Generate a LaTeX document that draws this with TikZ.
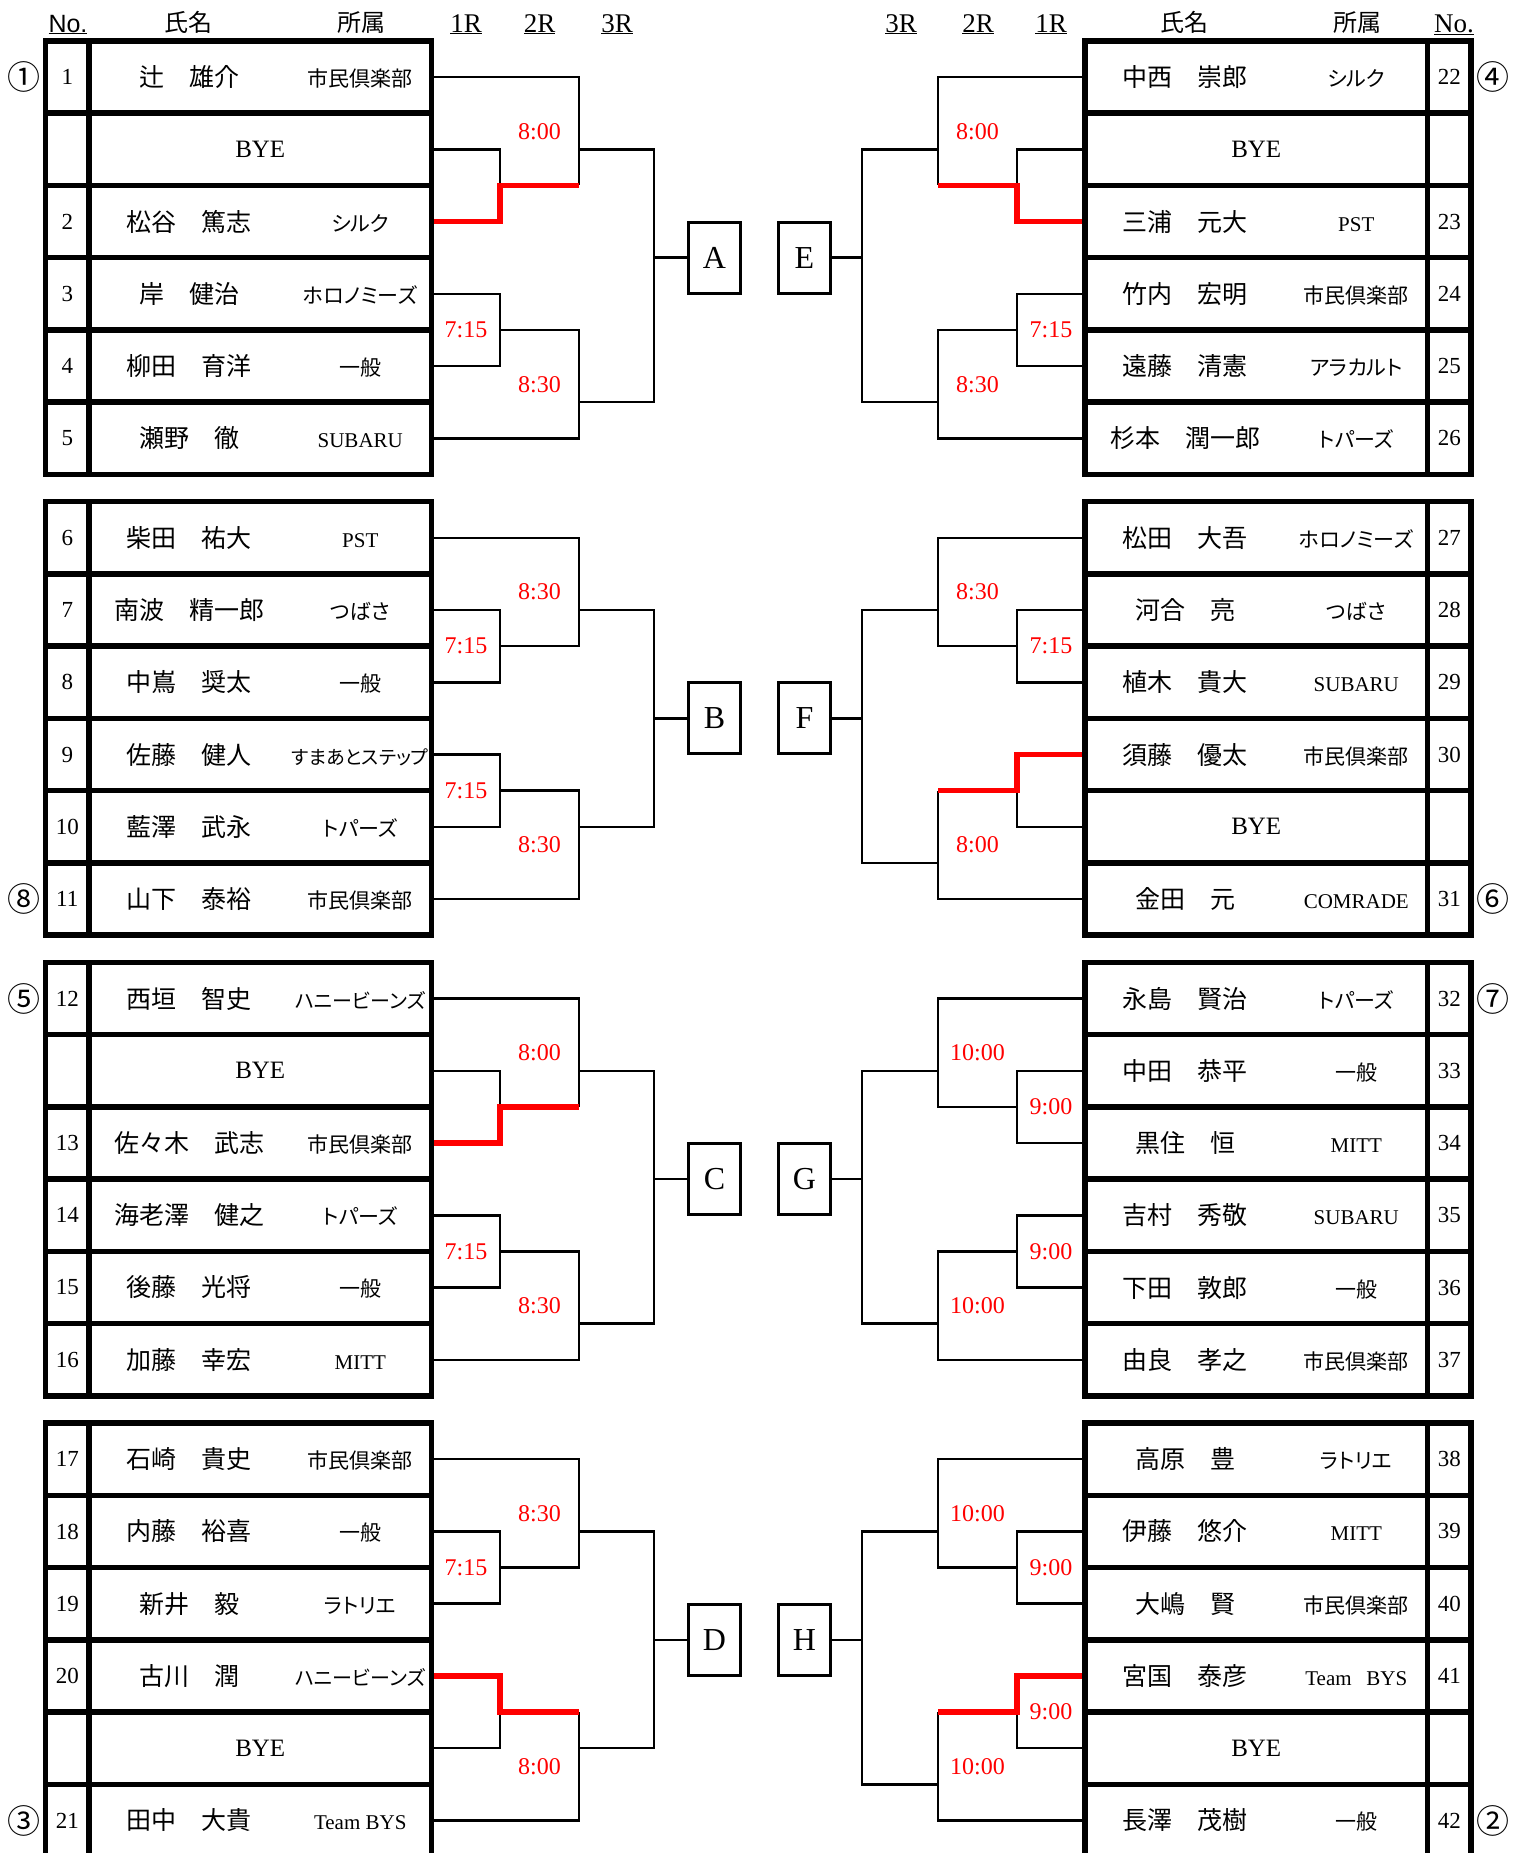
\documentclass[tikz,border=0pt]{standalone}
\usepackage{fontspec}
\setmainfont{Liberation Serif}
\newfontfamily\gothic{Liberation Sans}
\newfontfamily\jp{Noto Sans CJK JP}
\newfontfamily\jpp{Noto Sans CJK JP}[RawFeature=+palt]
\usepackage{tikz}
\usetikzlibrary{positioning}

\newcommand{\entry}[2]{\makebox[200pt]{\jp\fontsize{25}{30}\selectfont #1}\makebox[142.5pt]{\jpp\fontsize{21}{25}\selectfont #2}}

\begin{document}
\begin{tikzpicture}[
    x=1pt, y=-1pt,
    cell/.style={rectangle, draw, line width=5.5pt, inner sep=0pt, outer sep=0pt, minimum width=342.5pt, minimum height=72.25pt, font=\fontsize{25}{30}\selectfont},
    nocell/.style={cell, minimum width=43.5pt, font=\fontsize{23}{27}\selectfont},
    pool/.style={rectangle, draw, line width=3pt, inner sep=0pt, minimum width=52pt, minimum height=71pt, font=\fontsize{32}{36}\selectfont},
    time/.style={text=red, inner sep=0pt, font=\fontsize{24}{28}\selectfont},
    seed/.style={inner sep=0pt, font=\jp\fontsize{33}{36}\selectfont},
    heading/.style={anchor=base, inner sep=0pt, font=\jp\fontsize{24}{28}\selectfont},
    roundhead/.style={anchor=base, inner sep=0pt, font=\fontsize{27}{30}\selectfont},
    line/.style={draw, line width=2.5pt},
    win/.style={draw=red, line width=5.5pt, shorten <=2.75pt}
]
    \useasboundingbox (0,0) rectangle (1519,1853);

    % Round columns
    \coordinate (l1R) at (500,0);
    \coordinate (l2R) at (579,0);
    \coordinate (l3R) at (654,0);
    \coordinate (r1R) at (1017,0);
    \coordinate (r2R) at (938,0);
    \coordinate (r3R) at (862,0);

    % Headers
    \node (hd_no_l) [heading, font=\gothic\fontsize{25}{28}\selectfont] at (68,32) {\underline{No.}};
    \node (hd_name_l) [heading] at (188,31) {氏名};
    \node (hd_team_l) [heading] at (361,31) {所属};
    \node (hd_1R_l) [roundhead] at (466,32) {\underline{1R}};
    \node (hd_2R_l) [roundhead] at (539.5,32) {\underline{2R}};
    \node (hd_3R_l) [roundhead] at (617,32) {\underline{3R}};
    \node (hd_3R_r) [roundhead] at (901,32) {\underline{3R}};
    \node (hd_2R_r) [roundhead] at (978,32) {\underline{2R}};
    \node (hd_1R_r) [roundhead] at (1051,32) {\underline{1R}};
    \node (hd_name_r) [heading] at (1184,31) {氏名};
    \node (hd_team_r) [heading] at (1357,31) {所属};
    \node (hd_no_r) [roundhead] at (1454,32) {\underline{No.}};

    % Block A
    \node (a_row1) [cell] at (260.25,77.1) {\entry{辻　雄介}{市民倶楽部}};
    \node (a_no1) [nocell, left=0pt of a_row1] {1};
    \node (a_row2) [cell, below=0pt of a_row1] {BYE};
    \node (a_no2) [nocell, left=0pt of a_row2] {};
    \node (a_row3) [cell, below=0pt of a_row2] {\entry{松谷　篤志}{シルク}};
    \node (a_no3) [nocell, left=0pt of a_row3] {2};
    \node (a_row4) [cell, below=0pt of a_row3] {\entry{岸　健治}{ホロノミーズ}};
    \node (a_no4) [nocell, left=0pt of a_row4] {3};
    \node (a_row5) [cell, below=0pt of a_row4] {\entry{柳田　育洋}{一般}};
    \node (a_no5) [nocell, left=0pt of a_row5] {4};
    \node (a_row6) [cell, below=0pt of a_row5] {\entry{瀬野　徹}{\rmfamily SUBARU}};
    \node (a_no6) [nocell, left=0pt of a_row6] {5};
    \node (mark1) [seed, left=5pt of a_no1] {①};

    % Block B
    \node (b_row1) [cell] at (260.25,537.8) {\entry{柴田　祐大}{\rmfamily PST}};
    \node (b_no1) [nocell, left=0pt of b_row1] {6};
    \node (b_row2) [cell, below=0pt of b_row1] {\entry{南波　精一郎}{つばさ}};
    \node (b_no2) [nocell, left=0pt of b_row2] {7};
    \node (b_row3) [cell, below=0pt of b_row2] {\entry{中嶌　奨太}{一般}};
    \node (b_no3) [nocell, left=0pt of b_row3] {8};
    \node (b_row4) [cell, below=0pt of b_row3] {\entry{佐藤　健人}{\fontsize{19}{22}\selectfont すまあとステップ}};
    \node (b_no4) [nocell, left=0pt of b_row4] {9};
    \node (b_row5) [cell, below=0pt of b_row4] {\entry{藍澤　武永}{トパーズ}};
    \node (b_no5) [nocell, left=0pt of b_row5] {10};
    \node (b_row6) [cell, below=0pt of b_row5] {\entry{山下　泰裕}{市民倶楽部}};
    \node (b_no6) [nocell, left=0pt of b_row6] {11};
    \node (mark8) [seed, left=5pt of b_no6] {⑧};

    % Block C
    \node (c_row1) [cell] at (260.25,998.5) {\entry{西垣　智史}{\fontsize{20}{22}\selectfont ハニービーンズ}};
    \node (c_no1) [nocell, left=0pt of c_row1] {12};
    \node (c_row2) [cell, below=0pt of c_row1] {BYE};
    \node (c_no2) [nocell, left=0pt of c_row2] {};
    \node (c_row3) [cell, below=0pt of c_row2] {\entry{佐々木　武志}{市民倶楽部}};
    \node (c_no3) [nocell, left=0pt of c_row3] {13};
    \node (c_row4) [cell, below=0pt of c_row3] {\entry{海老澤　健之}{トパーズ}};
    \node (c_no4) [nocell, left=0pt of c_row4] {14};
    \node (c_row5) [cell, below=0pt of c_row4] {\entry{後藤　光将}{一般}};
    \node (c_no5) [nocell, left=0pt of c_row5] {15};
    \node (c_row6) [cell, below=0pt of c_row5] {\entry{加藤　幸宏}{\rmfamily MITT}};
    \node (c_no6) [nocell, left=0pt of c_row6] {16};
    \node (mark5) [seed, left=5pt of c_no1] {⑤};

    % Block D
    \node (d_row1) [cell] at (260.25,1459.2) {\entry{石崎　貴史}{市民倶楽部}};
    \node (d_no1) [nocell, left=0pt of d_row1] {17};
    \node (d_row2) [cell, below=0pt of d_row1] {\entry{内藤　裕喜}{一般}};
    \node (d_no2) [nocell, left=0pt of d_row2] {18};
    \node (d_row3) [cell, below=0pt of d_row2] {\entry{新井　毅}{ラトリエ}};
    \node (d_no3) [nocell, left=0pt of d_row3] {19};
    \node (d_row4) [cell, below=0pt of d_row3] {\entry{古川　潤}{\fontsize{20}{22}\selectfont ハニービーンズ}};
    \node (d_no4) [nocell, left=0pt of d_row4] {20};
    \node (d_row5) [cell, below=0pt of d_row4] {BYE};
    \node (d_no5) [nocell, left=0pt of d_row5] {};
    \node (d_row6) [cell, below=0pt of d_row5] {\entry{田中　大貴}{\rmfamily Team BYS}};
    \node (d_no6) [nocell, left=0pt of d_row6] {21};
    \node (mark3) [seed, left=5pt of d_no6] {③};

    % Block E
    \node (e_row1) [cell] at (1256.25,77.1) {\entry{中西　崇郎}{シルク}};
    \node (e_no1) [nocell, right=0pt of e_row1] {22};
    \node (e_row2) [cell, below=0pt of e_row1] {BYE};
    \node (e_no2) [nocell, right=0pt of e_row2] {};
    \node (e_row3) [cell, below=0pt of e_row2] {\entry{三浦　元大}{\rmfamily PST}};
    \node (e_no3) [nocell, right=0pt of e_row3] {23};
    \node (e_row4) [cell, below=0pt of e_row3] {\entry{竹内　宏明}{市民倶楽部}};
    \node (e_no4) [nocell, right=0pt of e_row4] {24};
    \node (e_row5) [cell, below=0pt of e_row4] {\entry{遠藤　清憲}{アラカルト}};
    \node (e_no5) [nocell, right=0pt of e_row5] {25};
    \node (e_row6) [cell, below=0pt of e_row5] {\entry{杉本　潤一郎}{トパーズ}};
    \node (e_no6) [nocell, right=0pt of e_row6] {26};
    \node (mark4) [seed, right=5pt of e_no1] {④};

    % Block F
    \node (f_row1) [cell] at (1256.25,537.8) {\entry{松田　大吾}{ホロノミーズ}};
    \node (f_no1) [nocell, right=0pt of f_row1] {27};
    \node (f_row2) [cell, below=0pt of f_row1] {\entry{河合　亮}{つばさ}};
    \node (f_no2) [nocell, right=0pt of f_row2] {28};
    \node (f_row3) [cell, below=0pt of f_row2] {\entry{植木　貴大}{\rmfamily SUBARU}};
    \node (f_no3) [nocell, right=0pt of f_row3] {29};
    \node (f_row4) [cell, below=0pt of f_row3] {\entry{須藤　優太}{市民倶楽部}};
    \node (f_no4) [nocell, right=0pt of f_row4] {30};
    \node (f_row5) [cell, below=0pt of f_row4] {BYE};
    \node (f_no5) [nocell, right=0pt of f_row5] {};
    \node (f_row6) [cell, below=0pt of f_row5] {\entry{金田　元}{\rmfamily COMRADE}};
    \node (f_no6) [nocell, right=0pt of f_row6] {31};
    \node (mark6) [seed, right=5pt of f_no6] {⑥};

    % Block G
    \node (g_row1) [cell] at (1256.25,998.5) {\entry{永島　賢治}{トパーズ}};
    \node (g_no1) [nocell, right=0pt of g_row1] {32};
    \node (g_row2) [cell, below=0pt of g_row1] {\entry{中田　恭平}{一般}};
    \node (g_no2) [nocell, right=0pt of g_row2] {33};
    \node (g_row3) [cell, below=0pt of g_row2] {\entry{黒住　恒}{\rmfamily MITT}};
    \node (g_no3) [nocell, right=0pt of g_row3] {34};
    \node (g_row4) [cell, below=0pt of g_row3] {\entry{吉村　秀敬}{\rmfamily SUBARU}};
    \node (g_no4) [nocell, right=0pt of g_row4] {35};
    \node (g_row5) [cell, below=0pt of g_row4] {\entry{下田　敦郎}{一般}};
    \node (g_no5) [nocell, right=0pt of g_row5] {36};
    \node (g_row6) [cell, below=0pt of g_row5] {\entry{由良　孝之}{市民倶楽部}};
    \node (g_no6) [nocell, right=0pt of g_row6] {37};
    \node (mark7) [seed, right=5pt of g_no1] {⑦};

    % Block H
    \node (h_row1) [cell] at (1256.25,1459.2) {\entry{高原　豊}{ラトリエ}};
    \node (h_no1) [nocell, right=0pt of h_row1] {38};
    \node (h_row2) [cell, below=0pt of h_row1] {\entry{伊藤　悠介}{\rmfamily MITT}};
    \node (h_no2) [nocell, right=0pt of h_row2] {39};
    \node (h_row3) [cell, below=0pt of h_row2] {\entry{大嶋　賢}{市民倶楽部}};
    \node (h_no3) [nocell, right=0pt of h_row3] {40};
    \node (h_row4) [cell, below=0pt of h_row3] {\entry{宮国　泰彦}{\rmfamily Team\hspace{0.7em}BYS}};
    \node (h_no4) [nocell, right=0pt of h_row4] {41};
    \node (h_row5) [cell, below=0pt of h_row4] {BYE};
    \node (h_no5) [nocell, right=0pt of h_row5] {};
    \node (h_row6) [cell, below=0pt of h_row5] {\entry{長澤　茂樹}{一般}};
    \node (h_no6) [nocell, right=0pt of h_row6] {42};
    \node (mark2) [seed, right=5pt of h_no6] {②};

    % Match points
    \coordinate (a_top1R) at (a_row2.south -| l1R);
    \coordinate (a_top2R) at (a_row2.east -| l2R);
    \coordinate (a_bot1R) at (a_row4.south -| l1R);
    \coordinate (a_bot2R) at (a_row5.south -| l2R);
    \coordinate (a_3R) at (a_row3.south -| l3R);
    \coordinate (b_top1R) at (b_row2.south -| l1R);
    \coordinate (b_top2R) at (b_row2.east -| l2R);
    \coordinate (b_bot1R) at (b_row4.south -| l1R);
    \coordinate (b_bot2R) at (b_row5.east -| l2R);
    \coordinate (b_3R) at (b_row3.south -| l3R);
    \coordinate (c_top1R) at (c_row2.south -| l1R);
    \coordinate (c_top2R) at (c_row2.east -| l2R);
    \coordinate (c_bot1R) at (c_row4.south -| l1R);
    \coordinate (c_bot2R) at (c_row5.south -| l2R);
    \coordinate (c_3R) at (c_row3.south -| l3R);
    \coordinate (d_top1R) at (d_row2.south -| l1R);
    \coordinate (d_top2R) at (d_row2.east -| l2R);
    \coordinate (d_bot1R) at (d_row4.south -| l1R);
    \coordinate (d_bot2R) at (d_row5.east -| l2R);
    \coordinate (d_3R) at (d_row3.south -| l3R);
    \coordinate (e_top1R) at (e_row2.south -| r1R);
    \coordinate (e_top2R) at (e_row2.west -| r2R);
    \coordinate (e_bot1R) at (e_row4.south -| r1R);
    \coordinate (e_bot2R) at (e_row5.south -| r2R);
    \coordinate (e_3R) at (e_row3.south -| r3R);
    \coordinate (f_top1R) at (f_row2.south -| r1R);
    \coordinate (f_top2R) at (f_row2.west -| r2R);
    \coordinate (f_bot1R) at (f_row4.south -| r1R);
    \coordinate (f_bot2R) at (f_row5.south -| r2R);
    \coordinate (f_3R) at (f_row3.south -| r3R);
    \coordinate (g_top1R) at (g_row2.south -| r1R);
    \coordinate (g_top2R) at (g_row2.west -| r2R);
    \coordinate (g_bot1R) at (g_row4.south -| r1R);
    \coordinate (g_bot2R) at (g_row5.south -| r2R);
    \coordinate (g_3R) at (g_row3.south -| r3R);
    \coordinate (h_top1R) at (h_row2.south -| r1R);
    \coordinate (h_top2R) at (h_row2.west -| r2R);
    \coordinate (h_bot1R) at (h_row4.south -| r1R);
    \coordinate (h_bot2R) at (h_row5.south -| r2R);
    \coordinate (h_3R) at (h_row3.south -| r3R);

    % Pools
    \node (box_a) [pool, right=33pt of a_3R] {A};
    \node (box_b) [pool, right=33pt of b_3R] {B};
    \node (box_c) [pool, right=33pt of c_3R] {C};
    \node (box_d) [pool, right=33pt of d_3R] {D};
    \node (box_e) [pool, left=30pt of e_3R] {E};
    \node (box_f) [pool, left=30pt of f_3R] {F};
    \node (box_g) [pool, left=30pt of g_3R] {G};
    \node (box_h) [pool, left=30pt of h_3R] {H};

    % Connectors A
    \draw [line] (a_row2.east) -| (a_top1R);
    \draw [line] (a_row1.east) -| (a_top2R) -- (a_top1R -| l2R);
    \draw [line] (a_row4.east) -| (a_bot1R) |- (a_row5.east);
    \draw [line] (a_bot1R) -| (a_bot2R) |- (a_row6.east);
    \draw [line] (a_top2R) -| (a_3R) |- (a_bot2R);
    \draw [line] (a_3R) -- (box_a);
    \draw [win] (a_row3.east) -| (a_top1R) -- (a_top1R -| l2R);

    % Connectors B
    \draw [line] (b_row2.east) -| (b_top1R) |- (b_row3.east);
    \draw [line] (b_row1.east) -| (b_top2R) |- (b_top1R);
    \draw [line] (b_row4.east) -| (b_bot1R) |- (b_row5.east);
    \draw [line] (b_bot1R) -| (b_bot2R) |- (b_row6.east);
    \draw [line] (b_top2R) -| (b_3R) |- (b_bot2R);
    \draw [line] (b_3R) -- (box_b);

    % Connectors C
    \draw [line] (c_row2.east) -| (c_top1R);
    \draw [line] (c_row1.east) -| (c_top2R) -- (c_top1R -| l2R);
    \draw [line] (c_row4.east) -| (c_bot1R) |- (c_row5.east);
    \draw [line] (c_bot1R) -| (c_bot2R) |- (c_row6.east);
    \draw [line] (c_top2R) -| (c_3R) |- (c_bot2R);
    \draw [line] (c_3R) -- (box_c);
    \draw [win] (c_row3.east) -| (c_top1R) -- (c_top1R -| l2R);

    % Connectors D
    \draw [line] (d_row2.east) -| (d_top1R) |- (d_row3.east);
    \draw [line] (d_row1.east) -| (d_top2R) |- (d_top1R);
    \draw [line] (d_row5.east) -| (d_bot1R);
    \draw [line] (d_bot1R -| l2R) |- (d_row6.east);
    \draw [line] (d_top2R) -| (d_3R) |- (d_bot2R);
    \draw [line] (d_3R) -- (box_d);
    \draw [win] (d_row4.east) -| (d_bot1R) -- (d_bot1R -| l2R);

    % Connectors E
    \draw [line] (e_row2.west) -| (e_top1R);
    \draw [line] (e_row1.west) -| (e_top2R) -- (e_top1R -| r2R);
    \draw [line] (e_row4.west) -| (e_bot1R) |- (e_row5.west);
    \draw [line] (e_bot1R) -| (e_bot2R) |- (e_row6.west);
    \draw [line] (e_top2R) -| (e_3R) |- (e_bot2R);
    \draw [line] (e_3R) -- (box_e);
    \draw [win] (e_row3.west) -| (e_top1R) -- (e_top1R -| r2R);

    % Connectors F
    \draw [line] (f_row2.west) -| (f_top1R) |- (f_row3.west);
    \draw [line] (f_row1.west) -| (f_top2R) |- (f_top1R);
    \draw [line] (f_row5.west) -| (f_bot1R);
    \draw [line] (f_bot1R -| r2R) |- (f_row6.west);
    \draw [line] (f_top2R) -| (f_3R) |- (f_bot2R);
    \draw [line] (f_3R) -- (box_f);
    \draw [win] (f_row4.west) -| (f_bot1R) -- (f_bot1R -| r2R);

    % Connectors G
    \draw [line] (g_row2.west) -| (g_top1R) |- (g_row3.west);
    \draw [line] (g_row1.west) -| (g_top2R) |- (g_top1R);
    \draw [line] (g_row4.west) -| (g_bot1R) |- (g_row5.west);
    \draw [line] (g_bot1R) -| (g_bot2R) |- (g_row6.west);
    \draw [line] (g_top2R) -| (g_3R) |- (g_bot2R);
    \draw [line] (g_3R) -- (box_g);

    % Connectors H
    \draw [line] (h_row2.west) -| (h_top1R) |- (h_row3.west);
    \draw [line] (h_row1.west) -| (h_top2R) |- (h_top1R);
    \draw [line] (h_row5.west) -| (h_bot1R);
    \draw [line] (h_bot1R -| r2R) |- (h_row6.west);
    \draw [line] (h_top2R) -| (h_3R) |- (h_bot2R);
    \draw [line] (h_3R) -- (box_h);
    \draw [win] (h_row4.west) -| (h_bot1R) -- (h_bot1R -| r2R);

    % Times
    \node (a_time1) [time] at (539.5,131.3) {8:00};
    \node (a_time2) [time] at (466,330) {7:15};
    \node (a_time3) [time] at (539.5,384.2) {8:30};
    \node (b_time1) [time] at (539.5,592) {8:30};
    \node (b_time2) [time] at (466,646.2) {7:15};
    \node (b_time3) [time] at (466,790.7) {7:15};
    \node (b_time4) [time] at (539.5,844.9) {8:30};
    \node (c_time1) [time] at (539.5,1052.7) {8:00};
    \node (c_time2) [time] at (466,1251.4) {7:15};
    \node (c_time3) [time] at (539.5,1305.6) {8:30};
    \node (d_time1) [time] at (539.5,1513.4) {8:30};
    \node (d_time2) [time] at (466,1567.6) {7:15};
    \node (d_time3) [time] at (539.5,1766.3) {8:00};
    \node (e_time1) [time] at (977.5,131.3) {8:00};
    \node (e_time2) [time] at (1051,330) {7:15};
    \node (e_time3) [time] at (977.5,384.2) {8:30};
    \node (f_time1) [time] at (977.5,592) {8:30};
    \node (f_time2) [time] at (1051,646.2) {7:15};
    \node (f_time3) [time] at (977.5,844.9) {8:00};
    \node (g_time1) [time] at (977.5,1052.7) {10:00};
    \node (g_time2) [time] at (1051,1106.9) {9:00};
    \node (g_time3) [time] at (1051,1251.4) {9:00};
    \node (g_time4) [time] at (977.5,1305.6) {10:00};
    \node (h_time1) [time] at (977.5,1513.4) {10:00};
    \node (h_time2) [time] at (1051,1567.6) {9:00};
    \node (h_time3) [time] at (1051,1712.1) {9:00};
    \node (h_time4) [time] at (977.5,1766.3) {10:00};

\end{tikzpicture}
\end{document}
